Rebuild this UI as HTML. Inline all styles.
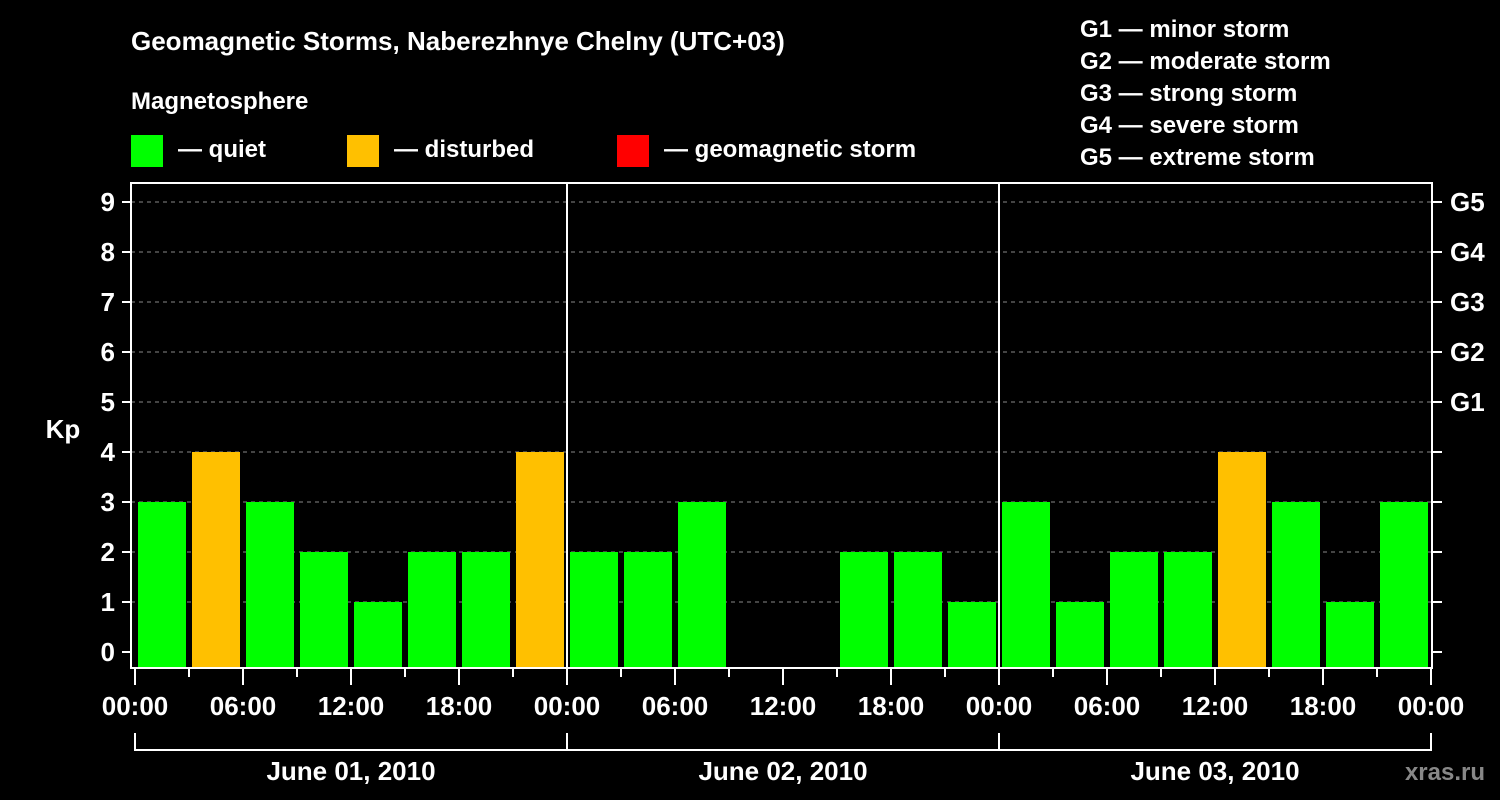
<!DOCTYPE html>
<html><head><meta charset="utf-8">
<style>
html,body{margin:0;padding:0;background:#000;}
svg{display:block;font-family:"Liberation Sans",Arial,sans-serif;font-weight:bold;}
</style></head>
<body>
<svg id="chart" width="1500" height="800" viewBox="0 0 1500 800">
<rect x="0" y="0" width="1500" height="800" fill="#000"/>
<text x="131" y="50" fill="#fff" font-size="26">Geomagnetic Storms, Naberezhnye Chelny (UTC+03)</text>
<text x="131" y="109" fill="#fff" font-size="24">Magnetosphere</text>
<g><rect x="131" y="135" width="32" height="32" fill="#00ff00"/><text x="178" y="157" fill="#fff" font-size="24">— quiet</text></g>
<g><rect x="347" y="135" width="32" height="32" fill="#ffc000"/><text x="394" y="157" fill="#fff" font-size="24">— disturbed</text></g>
<g><rect x="617" y="135" width="32" height="32" fill="#ff0000"/><text x="664" y="157" fill="#fff" font-size="24">— geomagnetic storm</text></g>
<g fill="#fff" font-size="24">
<text x="1080" y="37">G1 — minor storm</text>
<text x="1080" y="69">G2 — moderate storm</text>
<text x="1080" y="101">G3 — strong storm</text>
<text x="1080" y="133">G4 — severe storm</text>
<text x="1080" y="165">G5 — extreme storm</text>
</g>
<text x="63" y="438" fill="#fff" font-size="26" text-anchor="middle">Kp</text>
<g id="grid"></g>
<g id="bars"></g>
<g id="axes"></g>
<text x="1485" y="780" fill="#888" font-size="24" text-anchor="end">xras.ru</text>
</svg>
<script>
const kpValues = [3,4,3,2,1,2,2,4, 2,2,3,null,null,2,2,1, 3,1,2,2,4,3,1,3];
const dayLabels = ["June 01, 2010","June 02, 2010","June 03, 2010"];
const hourLabels = ["00:00","06:00","12:00","18:00"];
const gLabels = ["G1","G2","G3","G4","G5"];
const yTicks = [0,1,2,3,4,5,6,7,8,9];

const NS="http://www.w3.org/2000/svg";
const X0=135, SLOT=54, Y0=652, UNIT=50, PB=668, PT=183, PL=131, PR=1432;
const xs = i => X0 + i*SLOT;
const ys = v => Y0 - v*UNIT;
function mk(tag, attrs, parent){const e=document.createElementNS(NS,tag);for(const k in attrs)e.setAttribute(k,attrs[k]);parent.appendChild(e);return e;}
const grid=document.getElementById('grid'), bars=document.getElementById('bars'), axes=document.getElementById('axes');

yTicks.forEach(v=>{
  const y=ys(v);
  if(v>0){const l=mk('line',{x1:PL,x2:PR,y1:y,y2:y,stroke:'#888','stroke-width':1,'stroke-dasharray':'4,4'},grid);
    
    }
  const t=mk('line',{x1:122,x2:PL,y1:y,y2:y,stroke:'#fff','stroke-width':2},axes);
  
  
  const r=mk('line',{x1:PR,x2:1442,y1:y,y2:y,stroke:'#fff','stroke-width':2},axes);
  
  
  const tx=mk('text',{x:115,y:y+9,fill:'#fff','font-size':26,'text-anchor':'end'},axes);
  tx.textContent=v;
  
  
});
gLabels.forEach((g,i)=>{
  const tx=mk('text',{x:1450,y:ys(5+i)+9,fill:'#fff','font-size':26},axes);
  tx.textContent=g;
  
  
});

kpValues.forEach((v,i)=>{
  if(v===null) return;
  const col = v>=5?'#ff0000':(v>=4?'#ffc000':'#00ff00');
  const top=ys(v);
  const b=mk('rect',{x:xs(i)+3,y:top,width:48,height:PB-1-top,fill:col},bars);
  
  
});

// frame
const f=mk('rect',{x:PL,y:PT,width:PR-PL,height:PB-PT,fill:'none',stroke:'#fff','stroke-width':2},axes);


for(let d=1;d<3;d++){
  const l=mk('line',{x1:xs(d*8),x2:xs(d*8),y1:PT,y2:PB,stroke:'#fff','stroke-width':2},axes);
  
  
}
for(let i=0;i<=24;i++){
  const major=i%2===0;
  const t=mk('line',{x1:xs(i),x2:xs(i),y1:PB,y2:major?685:677,stroke:'#fff','stroke-width':2},axes);
  
  
  if(major){
    const tx=mk('text',{x:xs(i),y:715,fill:'#fff','font-size':26,'text-anchor':'middle'},axes);
    tx.textContent=hourLabels[(i/2)%4];
    
    
  }
}
dayLabels.forEach((d,k)=>{
  const a=xs(k*8), b=xs(k*8+8);
  const p=mk('path',{d:`M${a},733 V750 H${b} V733`,fill:'none',stroke:'#fff','stroke-width':2},axes);
  
  
  const tx=mk('text',{x:(a+b)/2,y:780,fill:'#fff','font-size':26,'text-anchor':'middle'},axes);
  tx.textContent=d;
  
  
});
</script>
</body></html>
